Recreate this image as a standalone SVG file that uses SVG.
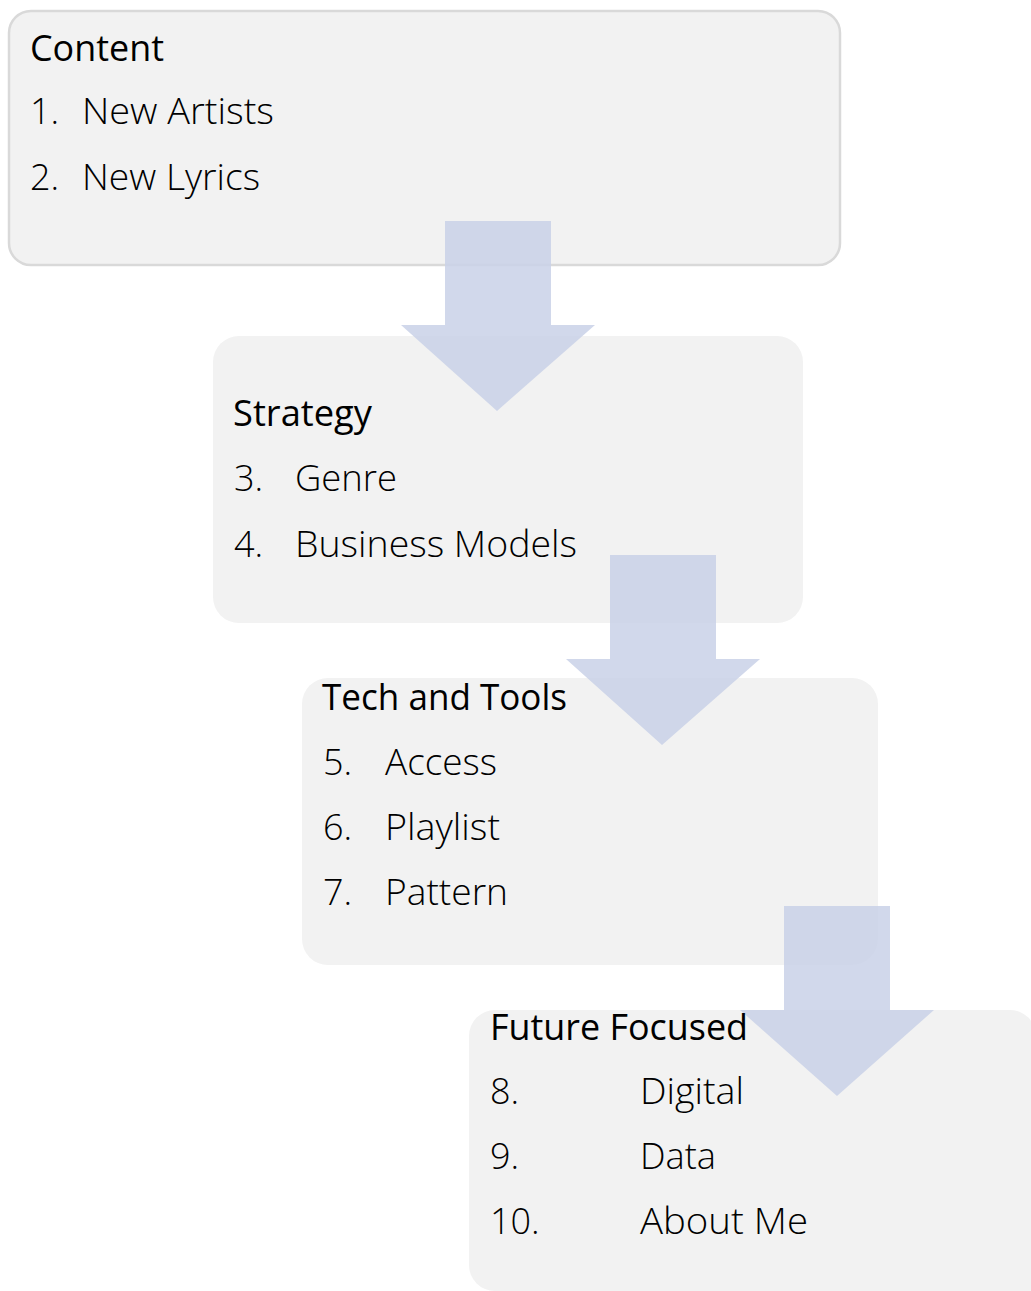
<svg xmlns="http://www.w3.org/2000/svg" width="1031" height="1291" viewBox="0 0 1031 1291">
<style>
.box{fill:#f2f2f2}
.b1{stroke:#d9d9d9;stroke-width:2.5}
.hd{font-family:"Open Sans","Liberation Sans",sans-serif;font-size:36px;fill:#000}
.it{font-family:"Open Sans","Liberation Sans",sans-serif;font-size:36px;font-weight:300;fill:#000}
.arr{fill:#c9d1e8;fill-opacity:0.85}
</style>
<rect width="1031" height="1291" fill="#fff"/>
<g id="node-content">
<rect class="box b1" x="9" y="11" width="831" height="254" rx="22"/>
<text class="hd" x="30" y="61" textLength="134" lengthAdjust="spacingAndGlyphs">Content</text>
<text class="it" x="30" y="124">1.</text>
<text class="it" x="82" y="124" textLength="192" lengthAdjust="spacingAndGlyphs">New Artists</text>
<text class="it" x="30" y="190">2.</text>
<text class="it" x="82" y="190" textLength="178" lengthAdjust="spacingAndGlyphs">New Lyrics</text>
</g>
<g id="node-strategy">
<rect class="box" x="213" y="336" width="590" height="287" rx="26"/>
</g>
<g id="node-tech">
<rect class="box" x="302" y="678" width="576" height="287" rx="26"/>
</g>
<g id="node-future">
<path class="box" d="M469,1036 A26,26 0 0 1 495,1010 H1010 A26,26 0 0 1 1036,1036 V1291 H495 A26,26 0 0 1 469,1265 Z"/>
</g>
<g id="connectors">
<polygon class="arr" points="445,221 551,221 551,325 595,325 497,411 401,325 445,325"/>
<polygon class="arr" points="610,555 716,555 716,659 760,659 662,745 566,659 610,659"/>
<polygon class="arr" points="784,906 890,906 890,1010 934,1010 837,1096 740,1010 784,1010"/>
</g>
<g id="labels-strategy">
<text class="hd" x="233" y="426" textLength="139" lengthAdjust="spacingAndGlyphs">Strategy</text>
<text class="it" x="234" y="491">3.</text>
<text class="it" x="295" y="491" textLength="102" lengthAdjust="spacingAndGlyphs">Genre</text>
<text class="it" x="234" y="557">4.</text>
<text class="it" x="295" y="557" textLength="282" lengthAdjust="spacingAndGlyphs">Business Models</text>
</g>
<g id="labels-tech">
<text class="hd" x="322" y="710" textLength="245" lengthAdjust="spacingAndGlyphs">Tech and Tools</text>
<text class="it" x="323" y="775">5.</text>
<text class="it" x="385" y="775" textLength="112" lengthAdjust="spacingAndGlyphs">Access</text>
<text class="it" x="323" y="840">6.</text>
<text class="it" x="385" y="840" textLength="115" lengthAdjust="spacingAndGlyphs">Playlist</text>
<text class="it" x="323" y="905">7.</text>
<text class="it" x="385" y="905" textLength="123" lengthAdjust="spacingAndGlyphs">Pattern</text>
</g>
<g id="labels-future">
<text class="hd" x="490" y="1040" textLength="258" lengthAdjust="spacingAndGlyphs">Future Focused</text>
<text class="it" x="490" y="1104">8.</text>
<text class="it" x="640" y="1104" textLength="104" lengthAdjust="spacingAndGlyphs">Digital</text>
<text class="it" x="490" y="1169">9.</text>
<text class="it" x="640" y="1169" textLength="76" lengthAdjust="spacingAndGlyphs">Data</text>
<text class="it" x="490" y="1234">10.</text>
<text class="it" x="640" y="1234" textLength="168" lengthAdjust="spacingAndGlyphs">About Me</text>
</g>
</svg>
